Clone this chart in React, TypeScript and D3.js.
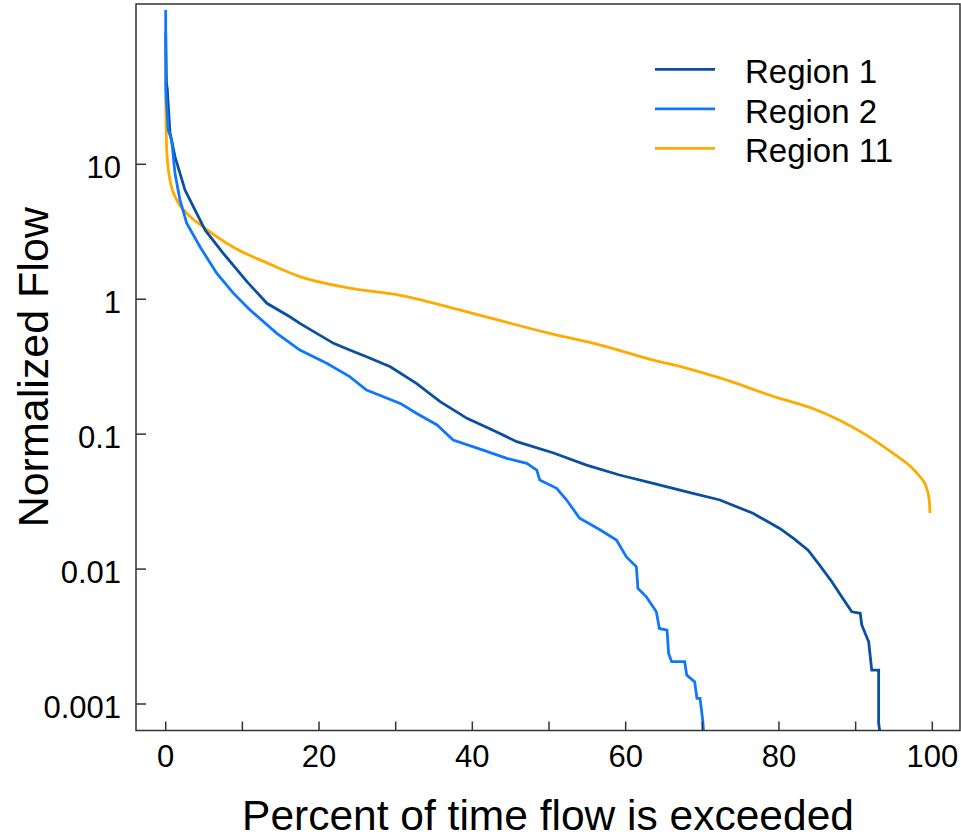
import React from "react";
import * as d3 from "d3";

// percent of time exceeded, normalized flow
const region1: [number, number][] = [
  [0, 95], [0.1, 40], [0.2, 36.5], [0.56, 17.1], [1.21, 11.4], [2.52, 6.44],
  [5.13, 3.26], [7.51, 2.19], [10.6, 1.35], [13.2, 0.933], [16.2, 0.741],
  [17.5, 0.662], [19.7, 0.558], [21.9, 0.471], [24.0, 0.42], [26.2, 0.375],
  [29.3, 0.316], [32.7, 0.238], [35.8, 0.174], [39.3, 0.131], [42.7, 0.107],
  [45.8, 0.0879], [50.6, 0.0725], [54.9, 0.059], [59.2, 0.0498], [63.6, 0.0432],
  [68.0, 0.0374], [72.3, 0.0325], [76.6, 0.0259], [80.1, 0.02], [81.9, 0.0169],
  [83.8, 0.0138], [85.3, 0.0107], [86.9, 0.00806], [87.9, 0.0066], [89.5, 0.00482],
  [90.6, 0.0047], [90.8, 0.00385], [91.7, 0.00289], [92.1, 0.00178], [93.0, 0.00178],
  [93.0, 0.00072], [93.4, 0.0005], [94, 0.0005],
];

const region2: [number, number][] = [
  [0, 139], [0, 35.6], [0.34, 17.9], [0.78, 15.1], [1.21, 8.58], [1.86, 5.45],
  [2.74, 3.66], [4.47, 2.45], [6.65, 1.56], [8.82, 1.11], [11.0, 0.832],
  [14.5, 0.558], [17.5, 0.42], [21.0, 0.335], [24.0, 0.267], [26.2, 0.212],
  [30.6, 0.169], [32.7, 0.143], [35.4, 0.117], [37.5, 0.0904], [41.4, 0.0762],
  [44.5, 0.0662], [47.1, 0.0608], [48.4, 0.0542], [48.8, 0.0457], [51.0, 0.0397],
  [52.3, 0.0325], [54.0, 0.0238], [56.7, 0.0195], [58.8, 0.0164], [60.1, 0.0123],
  [61.4, 0.0104], [61.6, 0.00719], [62.7, 0.00623], [64.0, 0.00482], [64.4, 0.00363],
  [65.4, 0.00353], [65.6, 0.00237], [66.0, 0.00206], [67.7, 0.00206], [67.96, 0.00164],
  [69.0, 0.00146], [69.3, 0.0011], [69.7, 0.0011], [70.05, 0.00076], [70.3, 0.0005],
  [71, 0.0005],
];

const region11: [number, number][] = [
  [0, 32.7], [0.13, 12.8], [0.56, 7.66], [1.43, 5.45], [2.74, 4.35], [5.13, 3.37],
  [8.78, 2.44], [13.2, 1.86], [17.5, 1.47], [24.0, 1.21], [30.6, 1.07], [39.3, 0.807],
  [50.1, 0.558], [56.7, 0.457], [63.6, 0.354], [67.9, 0.309], [72.3, 0.261],
  [80.1, 0.184], [84.4, 0.155], [87.9, 0.127], [91.4, 0.0984], [94.9, 0.072],
  [97.2, 0.0573], [98.4, 0.0483], [99.2, 0.0407], [99.6, 0.0325], [99.7, 0.026],
];

const seriesNames = ["Region 1", "Region 2", "Region 11"];
const seriesColors = ["#0A4FA0", "#0F78FA", "#FFAA00"];
const xTicks = d3.range(0, 101, 10);
const xLabels = [0, 20, 40, 60, 80, 100];
const yTicks = [0.001, 0.01, 0.1, 1, 10];
const yLabels = ["0.001", "0.01", "0.1", "1", "10"];

const W = 961;
const H = 838;
const frame = { left: 136, right: 960, top: 4, bottom: 730.5 };
const font = "Arial, 'Liberation Sans', sans-serif";

export default function App() {
  const x = d3.scaleLinear().domain([0, 100]).range([165.7, 932.3]);
  const y = d3.scaleLog().domain([0.001, 10]).range([704, 164.3]);
  const stepLine = d3
    .line<[number, number]>()
    .x((d) => x(d[0]))
    .y((d) => y(d[1]));
  const smoothLine = d3
    .line<[number, number]>()
    .x((d) => x(d[0]))
    .y((d) => y(d[1]))
    .curve(d3.curveMonotoneX);

  const data = [region1, region2, region11];
  // draw orange underneath, then the two blues
  const drawOrder = [2, 0, 1];

  return (
    <div style={{ position: "absolute", left: 0, top: 0 }}>
      <svg width={W} height={H} style={{ display: "block", background: "#fff" }}>
        <defs>
          <clipPath id="plotClip">
            <rect
              x={frame.left}
              y={frame.top}
              width={frame.right - frame.left}
              height={frame.bottom - frame.top}
            />
          </clipPath>
        </defs>

        <g clipPath="url(#plotClip)">
          {drawOrder.map((i) => (
            <path
              key={seriesNames[i]}
              d={(i === 2 ? smoothLine(data[i]) : stepLine(data[i])) || ""}
              fill="none"
              stroke={seriesColors[i]}
              strokeWidth={2.8}
              strokeLinejoin="miter"
            />
          ))}
        </g>

        <rect
          x={frame.left}
          y={frame.top}
          width={frame.right - frame.left}
          height={frame.bottom - frame.top}
          fill="none"
          stroke="#333"
          strokeWidth={1.5}
        />

        {xTicks.map((t) => (
          <line
            key={"xt" + t}
            x1={x(t)}
            x2={x(t)}
            y1={frame.bottom}
            y2={frame.bottom - 9}
            stroke="#333"
            strokeWidth={1.5}
          />
        ))}
        {xLabels.map((t) => (
          <text
            key={"xl" + t}
            x={x(t)}
            y={767}
            textAnchor="middle"
            fontFamily={font}
            fontSize={31}
            fill="#000"
          >
            {t}
          </text>
        ))}

        {yTicks.map((t, i) => (
          <g key={"yt" + t}>
            <line
              x1={frame.left}
              x2={frame.left + 10}
              y1={y(t)}
              y2={y(t)}
              stroke="#333"
              strokeWidth={1.5}
            />
            <text
              x={121}
              y={y(t) + 14}
              textAnchor="end"
              fontFamily={font}
              fontSize={31}
              fill="#000"
            >
              {yLabels[i]}
            </text>
          </g>
        ))}

        <text
          x={(frame.left + frame.right) / 2}
          y={830}
          textAnchor="middle"
          fontFamily={font}
          fontSize={42.5}
          fill="#000"
        >
          Percent of time flow is exceeded
        </text>
        <text
          transform={`translate(48, ${(frame.top + frame.bottom) / 2}) rotate(-90)`}
          textAnchor="middle"
          fontFamily={font}
          fontSize={43}
          fill="#000"
        >
          Normalized Flow
        </text>

        {seriesNames.map((name, i) => {
          const ly = 69.3 + i * 39.5;
          return (
            <g key={"lg" + name}>
              <line x1={655} x2={715} y1={ly} y2={ly} stroke={seriesColors[i]} strokeWidth={2.8} />
              <text x={745} y={ly + 14} fontFamily={font} fontSize={33} fill="#000">
                {name}
              </text>
            </g>
          );
        })}
      </svg>
    </div>
  );
}
